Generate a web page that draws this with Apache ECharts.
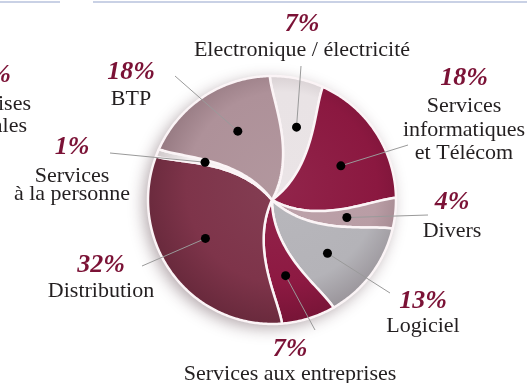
<!DOCTYPE html>
<html>
<head>
<meta charset="utf-8">
<title>Répartition par secteur</title>
<script src="https://cdn.jsdelivr.net/npm/echarts@6/dist/echarts.min.js"></script>
<style>
  html, body { margin: 0; padding: 0; background: #ffffff; }
  #chart { width: 527px; height: 383px; }
</style>
</head>
<body>
<div id="chart"></div>
<script>
// Sectors, clockwise from the top of the pie
const sectors = [
  'Electronique / électricité',
  'Services\ninformatiques\net Télécom',
  'Divers',
  'Logiciel',
  'Services aux entreprises',
  'Distribution',
  'Services\nà la personne',
  'BTP'
];
// Share of each sector, in percent
const shares = [7, 18, 4, 13, 7, 32, 1, 18];
const shareLabels = shares.map(v => v + '%');

// Slice fills
const sliceColors = ['#e9e3e5', '#8b1840', '#b99da5', '#b4b3b8', '#8d1942', '#7e344a', '#f4f0f1', '#ae9199'];

// Where each label block sits and where its leader line ends
const labelLayout = [
  { x: 302, pctY: 24,  nameY: 50,    lh: 23,   end: [301, 66] },
  { x: 464, pctY: 78,  nameY: 130,   lh: 23.5, end: [408, 145] },
  { x: 452, pctY: 202, nameY: 231,   lh: 23,   end: [428, 215] },
  { x: 423, pctY: 301, nameY: 326,   lh: 23,   end: [390, 293] },
  { x: 290, pctY: 349, nameY: 374,   lh: 23,   end: [315, 330] },
  { x: 101, pctY: 265, nameY: 291,   lh: 23,   end: [142, 266] },
  { x: 72,  pctY: 147, nameY: 185,   lh: 18.5, end: [110, 153] },
  { x: 131, pctY: 72,  nameY: 99.5,  lh: 23,   end: [175, 76] }
];

const PCT_FONT = 'italic bold 26px "Liberation Serif", serif';
const NAME_FONT = '22px "Liberation Serif", serif';
const PCT_COLOR = '#7b1236';
const NAME_COLOR = '#231f20';

// Swirl: how far (in percent of the circle) a boundary turns at radius r
const TWIST = 8.3;
function twist(r) { return TWIST * Math.pow(1 - r, 1.5); }

function mix(hex, target, t) {
  const a = echarts.color.parse(hex), b = echarts.color.parse(target);
  const c = [0, 1, 2].map(k => Math.round(a[k] + (b[k] - a[k]) * t));
  return 'rgb(' + c.join(',') + ')';
}

// Cumulative start of each slice
let acc = 0;
const sliceData = shares.map(v => { const s = acc; acc += v; return [s, v]; });

function renderSlice(params, api) {
  const i = params.dataIndex;
  const start = api.value(0);
  const size = api.value(1);
  const end = start + size;
  const at = (val, r) => api.coord([r, val]);

  const c = at(0, 0);
  const rim = at(0, 1);
  const R = Math.hypot(rim[0] - c[0], rim[1] - c[1]);

  const pts = [];
  const steps = Math.max(2, Math.ceil(size / 0.2));
  for (let k = 0; k <= steps; k++) pts.push(at(start + size * k / steps, 1));
  const n = 48;
  for (let k = 1; k <= n; k++) { const r = 1 - k / n; pts.push(at(end + twist(r), r)); }
  for (let k = 1; k < n; k++) { const r = k / n; pts.push(at(start + twist(r), r)); }

  // Soft rounded shading: flat in the middle, a little darker toward the rim
  const base = sliceColors[i];
  const fill = new echarts.graphic.RadialGradient(
    c[0] + R * 0.08, c[1] - R * 0.10, R * 1.1,
    [
      { offset: 0, color: mix(base, '#ffffff', 0.05) },
      { offset: 0.7, color: base },
      { offset: 1, color: mix(base, '#1a0008', 0.2) }
    ],
    true
  );

  const dotR = 0.62;
  const dot = at(start + size / 2 + twist(dotR), dotR);
  const lay = labelLayout[i];

  const children = [];
  if (i === 0) {
    children.push({
      type: 'circle',
      shape: { cx: c[0], cy: c[1], r: R },
      style: { fill: '#ffffff', shadowBlur: 16, shadowColor: 'rgba(60,30,40,0.4)', shadowOffsetX: -4, shadowOffsetY: 4 },
      silent: true
    });
  }
  children.push({
    type: 'polygon',
    shape: { points: pts },
    style: { fill: fill, stroke: '#fbf4f6', lineWidth: 2.5, lineJoin: 'round' }
  });
  children.push({
    type: 'line',
    shape: { x1: dot[0], y1: dot[1], x2: lay.end[0], y2: lay.end[1] },
    style: { stroke: '#9a9a9a', lineWidth: 1 },
    z2: 20
  });
  children.push({
    type: 'circle',
    shape: { cx: dot[0], cy: dot[1], r: 4.5 },
    style: { fill: '#000000' },
    z2: 21
  });
  children.push({
    type: 'text',
    x: lay.x, y: lay.pctY,
    style: { text: shareLabels[i], font: PCT_FONT, fill: PCT_COLOR, align: 'center', verticalAlign: 'middle' },
    z2: 22
  });
  children.push({
    type: 'text',
    x: lay.x, y: lay.nameY,
    style: { text: sectors[i], font: NAME_FONT, fill: NAME_COLOR, align: 'center', verticalAlign: 'middle', lineHeight: lay.lh },
    z2: 22
  });
  return { type: 'group', children: children };
}

const chart = echarts.init(document.getElementById('chart'), null, { renderer: 'canvas' });
chart.setOption({
  animation: false,
  backgroundColor: '#ffffff',
  polar: { center: [272, 200], radius: 124 },
  angleAxis: { type: 'value', min: 0, max: 100, startAngle: 91, clockwise: true, show: false },
  radiusAxis: { type: 'value', min: 0, max: 1, show: false },
  graphic: [
    { type: 'line', shape: { x1: 0, y1: 2, x2: 60, y2: 2 }, style: { stroke: '#b7c2dd', lineWidth: 1.5 } },
    { type: 'line', shape: { x1: 93, y1: 2, x2: 527, y2: 2 }, style: { stroke: '#b7c2dd', lineWidth: 1.5 } },
    { type: 'text', x: 11, y: 75, style: { text: '8%', font: PCT_FONT, fill: PCT_COLOR, align: 'right', verticalAlign: 'middle' } },
    { type: 'text', x: 31, y: 104, style: { text: 'Entreprises', font: NAME_FONT, fill: NAME_COLOR, align: 'right', verticalAlign: 'middle' } },
    { type: 'text', x: 27, y: 126, style: { text: 'régionales', font: NAME_FONT, fill: NAME_COLOR, align: 'right', verticalAlign: 'middle' } }
  ],
  series: [{
    type: 'custom',
    coordinateSystem: 'polar',
    data: sliceData,
    renderItem: renderSlice
  }]
});
</script>
</body>
</html>
